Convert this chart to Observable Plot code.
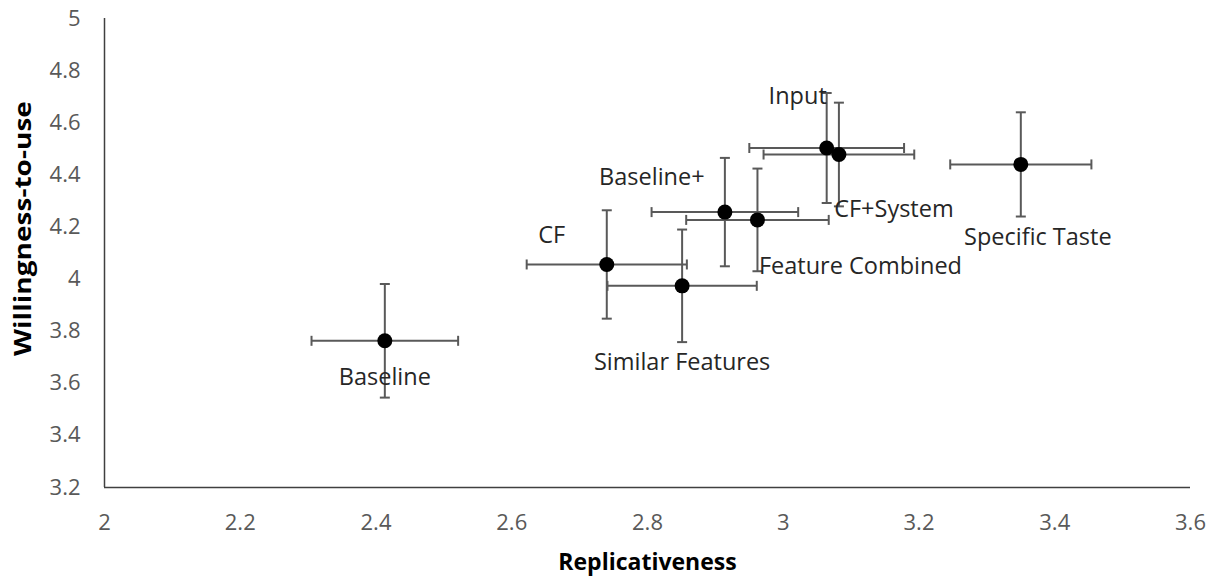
<!DOCTYPE html>
<html>
<head>
<meta charset="utf-8">
<script src="https://cdn.jsdelivr.net/npm/d3@7"></script>
<script src="https://cdn.jsdelivr.net/npm/@observablehq/plot@0.6"></script>
<style>
  html, body { margin: 0; padding: 0; background: #fff; }
  #chart svg { display: block; }
</style>
</head>
<body>
<div id="chart"></div>
<script>
// ---- data ----
const names      = ["Baseline", "CF", "Similar Features", "Baseline+", "Feature Combined", "Input", "CF+System", "Specific Taste"];
const replicativeness = [2.413, 2.740, 2.851, 2.914, 2.962, 3.064, 3.082, 3.350];
const willingness     = [3.763, 4.056, 3.974, 4.257, 4.227, 4.503, 4.478, 4.440];
const replErr         = [0.108, 0.118, 0.110, 0.108, 0.105, 0.114, 0.111, 0.104];
const willErr         = [0.218, 0.208, 0.216, 0.208, 0.197, 0.211, 0.199, 0.200];
const xTicks = [2, 2.2, 2.4, 2.6, 2.8, 3, 3.2, 3.4, 3.6];
const yTicks = [3.2, 3.4, 3.6, 3.8, 4, 4.2, 4.4, 4.6, 4.8, 5];

// ---- label placement (pixel offsets, styling only) ----
const labelOffsets = {
  "Baseline":         [0, 37],
  "CF":               [-55, -29],
  "Similar Features": [0, 77],
  "Baseline+":        [-73, -35],
  "Feature Combined": [103, 47],
  "Input":            [-29, -52],
  "CF+System":        [55, 55],
  "Specific Taste":   [17, 73]
};

const data = names.map((n, i) => ({
  name: n, x: replicativeness[i], y: willingness[i], ex: replErr[i], ey: willErr[i]
}));

const FONT = "'Open Sans', 'Noto Sans', sans-serif";
const ERR = "#595959";

// short line symbols for the error-bar caps
const vCap = { draw(ctx, size) { const h = Math.sqrt(size / Math.PI); ctx.moveTo(0, -h); ctx.lineTo(0, h); } };
const hCap = { draw(ctx, size) { const h = Math.sqrt(size / Math.PI); ctx.moveTo(-h, 0); ctx.lineTo(h, 0); } };

const labelMarks = data.map(d => Plot.text([d], {
  x: "x", y: "y", text: "name",
  dx: labelOffsets[d.name][0], dy: labelOffsets[d.name][1],
  fill: "#262626", fontSize: 23.5, fontFamily: FONT, textAnchor: "middle"
}));

const chart = Plot.plot({
  width: 1220,
  height: 581,
  marginLeft: 104,
  marginRight: 30,
  marginTop: 18,
  marginBottom: 94,
  style: { fontFamily: FONT, background: "#fff" },
  x: { domain: [2, 3.6] },
  y: { domain: [3.2, 5] },
  marks: [
    Plot.axisX({ ticks: xTicks, tickSize: 0, tickPadding: 27, fontSize: 22, fill: "#595959",
                 label: "Replicativeness", labelAnchor: "center", labelArrow: "none", labelOffset: 82,
                 tickFormat: d => String(d) }),
    Plot.axisY({ ticks: yTicks, tickSize: 0, tickPadding: 24, fontSize: 22, fill: "#595959",
                 label: "Willingness-to-use", labelAnchor: "center", labelArrow: "none", labelOffset: 90,
                 tickFormat: d => String(d) }),
    Plot.ruleX([2], { stroke: "#404040", strokeWidth: 1.5 }),
    Plot.ruleY([3.2], { stroke: "#404040", strokeWidth: 1.5 }),
    // horizontal error bars
    Plot.link(data, { x1: d => d.x - d.ex, x2: d => d.x + d.ex, y1: "y", y2: "y", stroke: ERR, strokeWidth: 2 }),
    Plot.dot(data, { x: d => d.x - d.ex, y: "y", symbol: vCap, r: 5, stroke: ERR, strokeWidth: 2, fill: "none" }),
    Plot.dot(data, { x: d => d.x + d.ex, y: "y", symbol: vCap, r: 5, stroke: ERR, strokeWidth: 2, fill: "none" }),
    // vertical error bars
    Plot.link(data, { x1: "x", x2: "x", y1: d => d.y - d.ey, y2: d => d.y + d.ey, stroke: ERR, strokeWidth: 2 }),
    Plot.dot(data, { x: "x", y: d => d.y - d.ey, symbol: hCap, r: 5, stroke: ERR, strokeWidth: 2, fill: "none" }),
    Plot.dot(data, { x: "x", y: d => d.y + d.ey, symbol: hCap, r: 5, stroke: ERR, strokeWidth: 2, fill: "none" }),
    // points
    Plot.dot(data, { x: "x", y: "y", r: 7.5, fill: "#000", stroke: "none" }),
    ...labelMarks
  ]
});

// axis titles bold and dark
d3.select(chart).selectAll("g[aria-label='x-axis label'] text, g[aria-label='y-axis label'] text")
  .attr("font-weight", "bold").attr("fill", "#000").attr("font-size", 23);

// the reference's y title is drawn stretched along its length and sits a little above centre
const yt = chart.querySelector("g[aria-label='y-axis label'] text");
if (yt) {
  const tr = yt.getAttribute("transform") || "";
  yt.setAttribute("transform", (tr + " scale(1.22,1)").trim());
  yt.setAttribute("dx", 20);
}

document.getElementById("chart").appendChild(chart);
</script>
</body>
</html>
